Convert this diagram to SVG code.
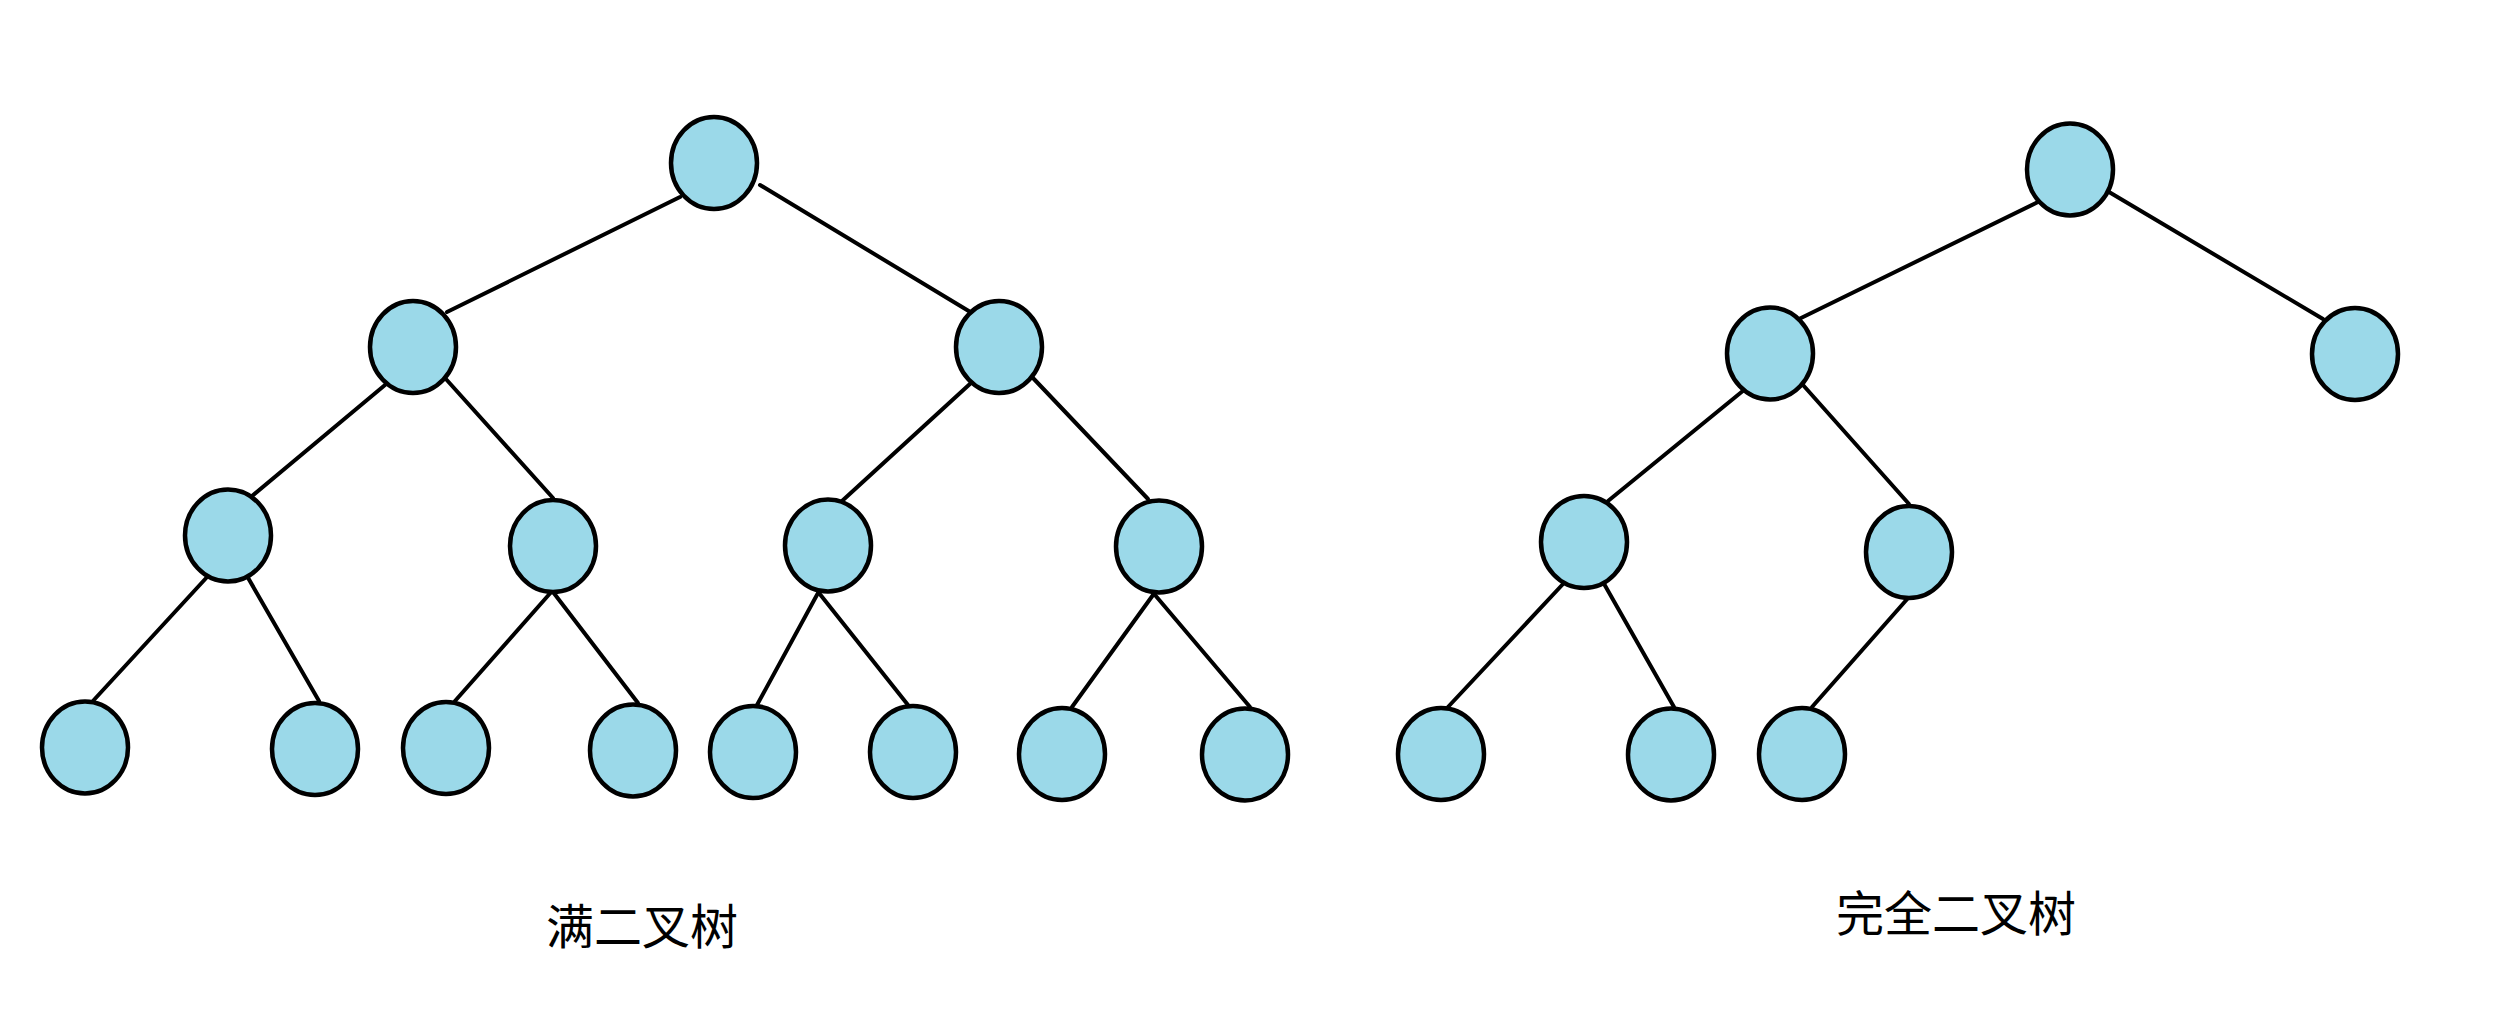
<svg xmlns="http://www.w3.org/2000/svg" width="2502" height="1034" viewBox="0 0 2502 1034">
<style>
.bg{fill:#ffffff}
.node ellipse{fill:#9bd9e9;stroke:#000000;stroke-width:4.5}
#connectors line{stroke:#000000;stroke-width:4;stroke-linecap:round}
.label{font-family:"Noto Sans CJK SC","Noto Sans",sans-serif;font-size:48px;fill:#000000;text-anchor:middle}
</style>
<rect class="bg" x="0" y="0" width="2502" height="1034"/>
<g id="connectors">
<line x1="680" y1="197" x2="447" y2="312"/>
<line x1="760" y1="185" x2="972" y2="313"/>
<line x1="385" y1="385" x2="252" y2="496"/>
<line x1="445" y1="378" x2="553" y2="498"/>
<line x1="971" y1="383" x2="842" y2="501"/>
<line x1="1033" y1="378" x2="1148" y2="499"/>
<line x1="208" y1="576" x2="92" y2="702"/>
<line x1="247" y1="576" x2="319" y2="701"/>
<line x1="553" y1="590" x2="455" y2="701"/>
<line x1="553" y1="592" x2="638" y2="703"/>
<line x1="818" y1="593" x2="757" y2="705"/>
<line x1="819" y1="593" x2="908" y2="705"/>
<line x1="1153" y1="595" x2="1072" y2="707"/>
<line x1="1155" y1="595" x2="1250" y2="707"/>
<line x1="2038" y1="202" x2="1799" y2="319"/>
<line x1="2109" y1="192" x2="2323" y2="319"/>
<line x1="1744" y1="390" x2="1608" y2="501"/>
<line x1="1803" y1="385" x2="1909" y2="504"/>
<line x1="1563" y1="584" x2="1448" y2="707"/>
<line x1="1603" y1="582" x2="1674" y2="707"/>
<line x1="1909" y1="597" x2="1812" y2="707"/>
</g>
<g id="full-n1" class="node"><ellipse cx="714" cy="163" rx="43" ry="46"/></g>
<g id="full-n2" class="node"><ellipse cx="413" cy="347" rx="43" ry="46"/></g>
<g id="full-n3" class="node"><ellipse cx="999" cy="347" rx="43" ry="46"/></g>
<g id="full-n4" class="node"><ellipse cx="228" cy="535.5" rx="43" ry="46"/></g>
<g id="full-n5" class="node"><ellipse cx="553" cy="546" rx="43" ry="46"/></g>
<g id="full-n6" class="node"><ellipse cx="828" cy="545.5" rx="43" ry="46"/></g>
<g id="full-n7" class="node"><ellipse cx="1159" cy="546.5" rx="43" ry="46"/></g>
<g id="full-n8" class="node"><ellipse cx="85" cy="747.5" rx="43" ry="46"/></g>
<g id="full-n9" class="node"><ellipse cx="315" cy="749" rx="43" ry="46"/></g>
<g id="full-n10" class="node"><ellipse cx="446" cy="748" rx="43" ry="46"/></g>
<g id="full-n11" class="node"><ellipse cx="633" cy="750.5" rx="43" ry="46"/></g>
<g id="full-n12" class="node"><ellipse cx="753" cy="752" rx="43" ry="46"/></g>
<g id="full-n13" class="node"><ellipse cx="913" cy="752" rx="43" ry="46"/></g>
<g id="full-n14" class="node"><ellipse cx="1062" cy="754" rx="43" ry="46"/></g>
<g id="full-n15" class="node"><ellipse cx="1245" cy="754.5" rx="43" ry="46"/></g>
<g id="comp-n1" class="node"><ellipse cx="2070" cy="169.5" rx="43" ry="46"/></g>
<g id="comp-n2" class="node"><ellipse cx="1770" cy="353.5" rx="43" ry="46"/></g>
<g id="comp-n3" class="node"><ellipse cx="2355" cy="354" rx="43" ry="46"/></g>
<g id="comp-n4" class="node"><ellipse cx="1584" cy="542" rx="43" ry="46"/></g>
<g id="comp-n5" class="node"><ellipse cx="1909" cy="552" rx="43" ry="46"/></g>
<g id="comp-n6" class="node"><ellipse cx="1441" cy="754" rx="43" ry="46"/></g>
<g id="comp-n7" class="node"><ellipse cx="1671" cy="754.5" rx="43" ry="46"/></g>
<g id="comp-n8" class="node"><ellipse cx="1802" cy="754" rx="43" ry="46"/></g>
<g id="label-full"><text class="label" x="642" y="944">满二叉树</text></g>
<g id="label-complete"><text class="label" x="1956" y="931">完全二叉树</text></g>
</svg>
